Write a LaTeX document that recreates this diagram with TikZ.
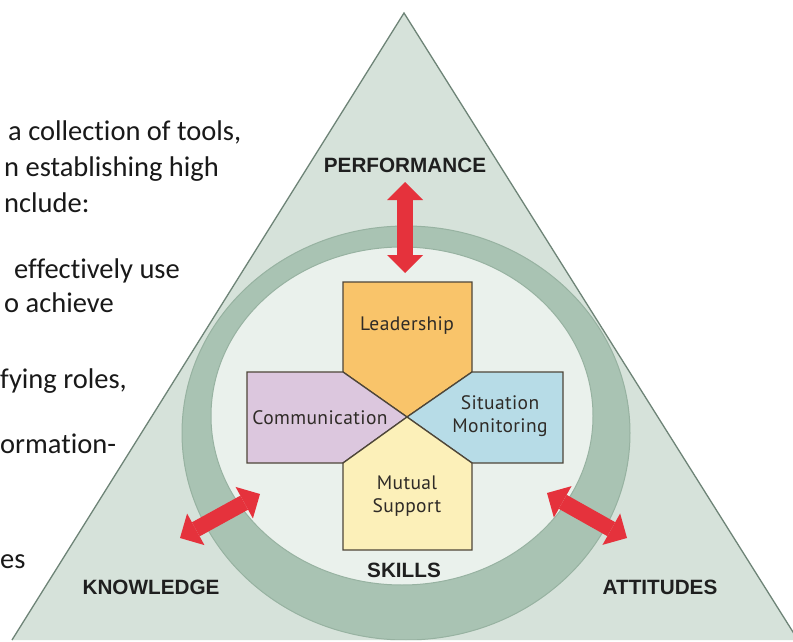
\documentclass[tikz,border=0pt]{standalone}
\usepackage{fontspec}
\setmainfont[Ligatures=NoCommon]{Carlito}
\newfontfamily\capsfont{Liberation Sans}
\newfontfamily\boxfont[LetterSpace=2]{PT Sans}
\usetikzlibrary{arrows.meta}

\definecolor{trifill}{HTML}{D6E2DA}
\definecolor{triline}{HTML}{6E8477}
\definecolor{ringfill}{HTML}{A9C3B3}
\definecolor{ringline}{HTML}{97B2A1}
\definecolor{discfill}{HTML}{EAF1EC}
\definecolor{leadfill}{HTML}{F9C46A}
\definecolor{commfill}{HTML}{DCC7DE}
\definecolor{sitfill}{HTML}{B7DCE7}
\definecolor{mutfill}{HTML}{FCF0B9}
\definecolor{boxline}{HTML}{4E4639}
\definecolor{boxtextc}{HTML}{2F2B27}
\definecolor{arrowred}{HTML}{E5323C}

\tikzset{
  bodytext/.style={anchor=base west, inner sep=0pt, text=black!90,
    font=\fontsize{28.5}{34}\selectfont},
  capslabel/.style={inner sep=0pt, text=black!88,
    font=\capsfont\bfseries\fontsize{20.7}{24}\selectfont},
  boxlabel/.style={inner sep=0pt, text=boxtextc, align=center,
    font=\boxfont\fontsize{19.5}{23}\selectfont},
  piece/.style={draw=boxline, line width=1.3pt, line join=miter},
  redarrow/.style={draw=arrowred, line width=16pt,
    {Triangle[width=36pt,length=18pt,line width=0pt]}-{Triangle[width=36pt,length=18pt,line width=0pt]}},
}

\begin{document}
\begin{tikzpicture}[x=1pt,y=-1pt]
\useasboundingbox (0,0) rectangle (793,642);
\clip (0,0) rectangle (793,642);
\fill[white] (0,0) rectangle (793,642);

% running text at the left
\node[bodytext] (t1) at (8,140) {a collection of tools,};
\node[bodytext] (t2) at (4,176) {n establishing high};
\node[bodytext] (t3) at (4,212) {nclude:};
\node[bodytext] (t4) at (14,278) {effectively use};
\node[bodytext] (t5) at (4,312) {o achieve};
\node[bodytext] (t6) at (0,388) {fying roles,};
\node[bodytext] (t7) at (0,453) {ormation-};
\node[bodytext] (t8) at (0,568) {es};

% triangle
\coordinate (apex) at (404,13);
\coordinate (bl) at (12,640);
\coordinate (br) at (798,640);
\fill[trifill] (apex) -- (bl) -- (br) -- cycle;

% ring and inner disc
\begin{scope}
  \clip (apex) -- (bl) -- (br) -- cycle;
  \filldraw[fill=ringfill, draw=ringline, line width=1pt]
    (406,433) ellipse [x radius=224pt, y radius=207pt];
  \filldraw[fill=discfill, draw=ringline, line width=1pt]
    (402,416) ellipse [x radius=191pt, y radius=169pt];
\end{scope}
\draw[triline, line width=1.3pt, line join=miter] (bl) -- (apex) -- (br);

% the four skill pieces
\coordinate (C) at (407,417);
\filldraw[piece, fill=leadfill]
  (343,282) -- (472,282) -- (472,372) -- (C) -- (343,372) -- cycle;
\filldraw[piece, fill=commfill]
  (247,372) -- (343,372) -- (C) -- (343,463) -- (247,463) -- cycle;
\filldraw[piece, fill=sitfill]
  (563,372) -- (472,372) -- (C) -- (472,463) -- (563,463) -- cycle;
\filldraw[piece, fill=mutfill]
  (343,550) -- (472,550) -- (472,463) -- (C) -- (343,463) -- cycle;

\node[boxlabel] (lead) at (407,326) {Leadership};
\node[boxlabel] (comm) at (320,418) {Communication};
\node[boxlabel] (sit) at (500,416) {Situation\\Monitoring};
\node[boxlabel] (mut) at (407,496) {Mutual\\Support};

% corner labels
\node[capslabel] (perf) at (405,165) {PERFORMANCE};
\node[capslabel] (know) at (151,587) {KNOWLEDGE};
\node[capslabel] (att) at (660,587) {ATTITUDES};
\node[capslabel] (skills) at (404,570) {SKILLS};

% double arrows
\coordinate (up1) at (405,182);
\coordinate (up2) at (405,273);
\coordinate (lf1) at (180,538);
\coordinate (lf2) at (260,494);
\coordinate (rt1) at (547,493);
\coordinate (rt2) at (627,538);
\draw[redarrow] (up1) -- (up2);
\draw[redarrow] (lf1) -- (lf2);
\draw[redarrow] (rt1) -- (rt2);
\end{tikzpicture}
\end{document}
